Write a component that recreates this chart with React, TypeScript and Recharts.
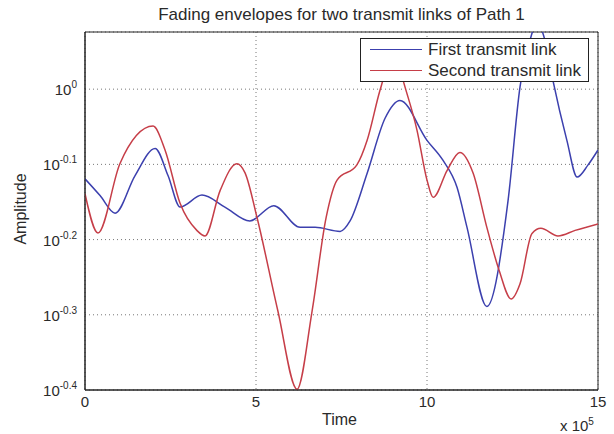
import React from 'react';
import { LineChart, Line, XAxis, YAxis, CartesianGrid, ReferenceArea, Legend } from 'recharts';

// Time in units of 1e5
const blueTime = [0, 0.44, 0.88, 1.46, 2.05, 2.43, 2.78, 3.42, 4.09, 4.82, 5.52, 6.29, 6.73, 7.46, 7.75, 8.25, 8.77, 9.21, 10.0, 10.47, 10.88, 11.17, 11.75, 12.37, 12.72, 13.01, 13.22, 13.45, 13.68, 14.09, 14.39, 14.71, 15];
const blueAmp = [0.760, 0.722, 0.684, 0.767, 0.834, 0.767, 0.697, 0.723, 0.697, 0.668, 0.700, 0.655, 0.655, 0.647, 0.668, 0.773, 0.914, 0.966, 0.855, 0.804, 0.740, 0.655, 0.514, 0.711, 1.007, 1.161, 1.227, 1.161, 1.028, 0.855, 0.764, 0.793, 0.830];

const redTime = [0, 0.38, 1.02, 1.99, 2.34, 2.78, 3.27, 3.51, 3.95, 4.44, 4.68, 5.03, 5.64, 6.2, 6.64, 7.05, 7.37, 7.95, 8.25, 8.63, 9.06, 9.3, 9.71, 10.0, 10.18, 10.59, 10.96, 11.35, 11.75, 12.11, 12.46, 12.72, 13.07, 13.33, 13.83, 14.33, 15];
const redAmp = [0.726, 0.644, 0.796, 0.893, 0.830, 0.705, 0.649, 0.638, 0.733, 0.796, 0.774, 0.675, 0.507, 0.399, 0.507, 0.675, 0.757, 0.793, 0.855, 0.998, 1.127, 1.028, 0.881, 0.757, 0.718, 0.780, 0.824, 0.773, 0.655, 0.574, 0.526, 0.551, 0.643, 0.653, 0.638, 0.649, 0.662];

const xTicks = [0, 5, 10, 15];
const yExponents = [-0.4, -0.3, -0.2, -0.1, 0];
const yTicks = yExponents.map((e) => Math.pow(10, e));
const yDomain = [Math.pow(10, -0.4), Math.pow(10, 0.076)];

const blueData = blueTime.map((t, i) => ({ t, v: blueAmp[i] }));
const redData = redTime.map((t, i) => ({ t, v: redAmp[i] }));

const BLUE = '#3c40ae';
const RED = '#c63e48';
const FONT = '"Liberation Sans", Arial, sans-serif';
const TXT = '#2a2a2a';

const YTick = (props: any) => {
  const { x, y, payload } = props;
  const e = Math.round(Math.log10(payload.value) * 10) / 10;
  const label = e === 0 ? '0' : e.toFixed(1);
  return (
    <text x={x} y={y + 6} textAnchor="end" fontSize={15} fill={TXT} fontFamily={FONT}>
      10<tspan dy={-7} fontSize={10}>{label}</tspan>
    </text>
  );
};

const XTick = (props: any) => {
  const { x, y, payload } = props;
  return (
    <text x={x} y={y + 9} textAnchor="middle" fontSize={15} fill={TXT} fontFamily={FONT}>
      {payload.value}
    </text>
  );
};

const LegendBox = () => (
  <div
    style={{
      width: 227,
      height: 42,
      border: '1px solid #222',
      background: '#fff',
      fontFamily: FONT,
      fontSize: 17,
      color: TXT,
      boxSizing: 'content-box',
      textAlign: 'left',
    }}
  >
    {[
      { c: BLUE, n: 'First transmit link' },
      { c: RED, n: 'Second transmit link' },
    ].map((it, i) => (
      <div key={i} style={{ display: 'flex', alignItems: 'center', height: 21, whiteSpace: 'nowrap' }}>
        <div style={{ width: 52, height: 0, borderTop: `1.5px solid ${it.c}`, marginLeft: 9, marginRight: 6 }} />
        <span>{it.n}</span>
      </div>
    ))}
  </div>
);

export default function App() {
  return (
    <div style={{ position: 'absolute', left: 0, top: 0, width: 614, height: 434, background: '#fff' }}>
      <div
        style={{
          position: 'absolute',
          left: 85,
          width: 513,
          top: 5,
          textAlign: 'center',
          fontFamily: FONT,
          fontSize: 17,
          color: TXT,
          whiteSpace: 'nowrap',
        }}
      >
        Fading envelopes for two transmit links of Path 1
      </div>
      <div
        style={{
          position: 'absolute',
          left: 83,
          width: 513,
          top: 411,
          textAlign: 'center',
          fontFamily: FONT,
          fontSize: 16,
          color: TXT,
        }}
      >
        Time
      </div>
      <div
        style={{
          position: 'absolute',
          left: 560,
          top: 416,
          fontFamily: FONT,
          fontSize: 15,
          color: TXT,
          whiteSpace: 'nowrap',
        }}
      >
        x 10<sup style={{ fontSize: 10 }}>5</sup>
      </div>
      <div
        style={{
          position: 'absolute',
          left: 21,
          top: 209,
          transform: 'translate(-50%, -50%) rotate(-90deg)',
          fontFamily: FONT,
          fontSize: 16,
          color: TXT,
          whiteSpace: 'nowrap',
        }}
      >
        Amplitude
      </div>
      <LineChart
        width={614}
        height={434}
        margin={{ top: 32, right: 16, bottom: 14, left: 25 }}
        style={{ position: 'absolute', left: 0, top: 0 }}
      >
        <CartesianGrid stroke="#777" strokeDasharray="1 3" />
        <XAxis
          dataKey="t"
          type="number"
          domain={[0, 15]}
          ticks={xTicks}
          height={30}
          allowDataOverflow
          tick={<XTick />}
          tickLine={false}
          axisLine={{ stroke: '#222' }}
        />
        <YAxis
          dataKey="v"
          type="number"
          scale="log"
          domain={yDomain}
          ticks={yTicks}
          width={60}
          allowDataOverflow
          tick={<YTick />}
          tickLine={false}
          axisLine={{ stroke: '#222' }}
        />
        <ReferenceArea x1={0} x2={15} y1={yDomain[0]} y2={yDomain[1]} fill="none" stroke="#222" strokeWidth={1} ifOverflow="visible" />
        <Line data={blueData} dataKey="v" name="First transmit link" type="monotone" stroke={BLUE} strokeWidth={1.5} dot={false} isAnimationActive={false} />
        <Line data={redData} dataKey="v" name="Second transmit link" type="monotone" stroke={RED} strokeWidth={1.5} dot={false} isAnimationActive={false} />
        <Legend
          layout="horizontal"
          verticalAlign="middle"
          align="center"
          content={<LegendBox />}
          wrapperStyle={{ position: 'absolute', left: 360, top: 38, width: 'auto' }}
        />
      </LineChart>
    </div>
  );
}
